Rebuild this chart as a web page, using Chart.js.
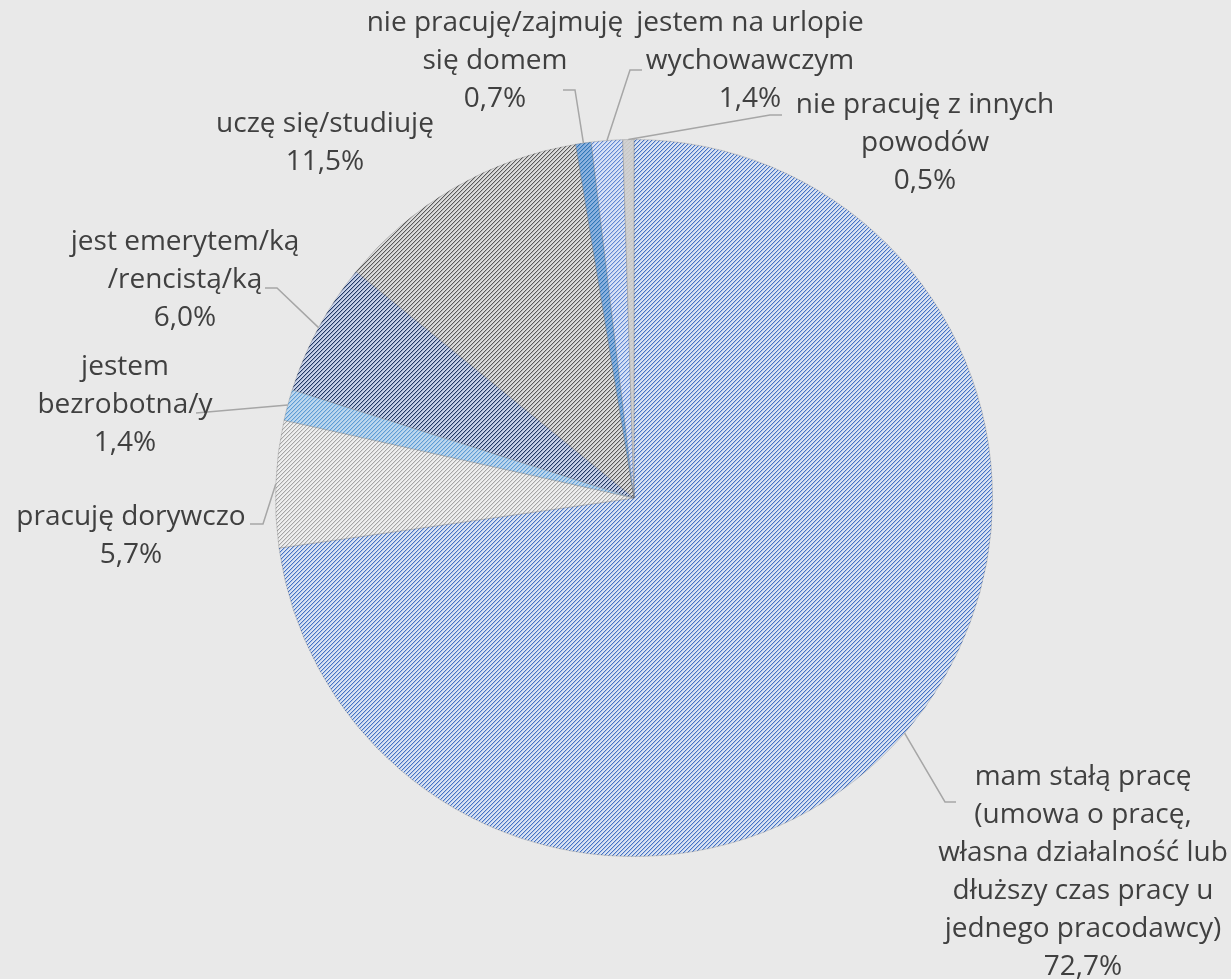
<!DOCTYPE html>
<html>
<head>
<meta charset="utf-8">
<script src="https://cdn.jsdelivr.net/npm/chart.js@4.4.0/dist/chart.umd.min.js"></script>
<style>
    html, body { margin: 0; padding: 0; background: #e9e9e9; }
</style>
</head>
<body>
<canvas id="status_graph" width="1231" height="979"></canvas>
<script>
// dane wykresu
const categories = [
    ['mam stałą pracę', '(umowa o pracę,', 'własna działalność lub', 'dłuższy czas pracy u', 'jednego pracodawcy)'],
    ['pracuję dorywczo'],
    ['jestem', 'bezrobotna/y'],
    ['jest emerytem/ką', '/rencistą/ką'],
    ['uczę się/studiuję'],
    ['nie pracuję/zajmuję', 'się domem'],
    ['jestem na urlopie', 'wychowawczym'],
    ['nie pracuję z innych', 'powodów']
];
const values = [72.7, 5.7, 1.4, 6.0, 11.5, 0.7, 1.4, 0.5];
const percentLabels = ['72,7%', '5,7%', '1,4%', '6,0%', '11,5%', '0,7%', '1,4%', '0,5%'];

// wygląd wycinków (tło, kreskowanie)
const sliceBg = ['#dae3f3', '#efefef', '#bdd7ee', '#c8d2ea', '#dcdcdc', '#8db3e0', '#d8e2f6', '#d2d2d2'];
const sliceFg = ['#4472c4', '#a5a5a5', '#5b9bd5', '#203864', '#595959', '#2e75b6', '#5f87d2', '#c6c6c6'];

// położenie etykiet: środek tekstu, y pierwszej linii, łamanie linii odniesienia
const labelLayout = [
    { x: 1083, y: 777, elbow: [945, 802], end: [956, 802] },
    { x: 131, y: 517, elbow: [263, 524], end: [250, 524] },
    { x: 125, y: 367, elbow: null, end: [196, 413] },
    { x: 185, y: 242, elbow: [277, 288], end: [265, 288] },
    { x: 325, y: 124, elbow: null, end: null },
    { x: 495, y: 23, elbow: [575, 90], end: [563, 90] },
    { x: 750, y: 23, elbow: [630, 70], end: [642, 70] },
    { x: 925, y: 105, elbow: [770, 115], end: [782, 115] }
];
const lineHeight = 38;

function makePattern(bg, fg) {
    const c = document.createElement('canvas');
    c.width = 4;
    c.height = 4;
    const g = c.getContext('2d');
    g.fillStyle = bg;
    g.fillRect(0, 0, 4, 4);
    g.fillStyle = fg;
    for (let i = 0; i < 4; i++) {
        g.fillRect(3 - i, i, 1, 1);
    }
    g.globalAlpha = 0.25;
    for (let i = 0; i < 4; i++) {
        g.fillRect((4 - i) % 4, i, 1, 1);
    }
    return g.createPattern(c, 'repeat');
}

const pieLabels = {
    id: 'pieLabels',
    afterDatasetsDraw(chart) {
        const ctx = chart.ctx;
        const arcs = chart.getDatasetMeta(0).data;
        ctx.save();
        arcs.forEach(function (arc, i) {
            const p = arc.getProps(['x', 'y', 'startAngle', 'endAngle', 'outerRadius'], true);
            const mid = (p.startAngle + p.endAngle) / 2;
            const sx = p.x + Math.cos(mid) * p.outerRadius;
            const sy = p.y + Math.sin(mid) * p.outerRadius;
            const lay = labelLayout[i];
            if (lay.end) {
                ctx.strokeStyle = '#a6a6a6';
                ctx.lineWidth = 1.5;
                ctx.beginPath();
                ctx.moveTo(sx, sy);
                if (lay.elbow) {
                    ctx.lineTo(lay.elbow[0], lay.elbow[1]);
                }
                ctx.lineTo(lay.end[0], lay.end[1]);
                ctx.stroke();
            }
            const lines = categories[i].concat([percentLabels[i]]);
            ctx.fillStyle = '#404040';
            ctx.font = '28px "Open Sans", sans-serif';
            ctx.textAlign = 'center';
            ctx.textBaseline = 'middle';
            lines.forEach(function (t, k) {
                ctx.fillText(t, lay.x, lay.y + k * lineHeight);
            });
        });
        ctx.restore();
    }
};

new Chart(document.getElementById('status_graph'), {
    type: 'pie',
    data: {
        labels: categories.map(function (c) { return c.join(' '); }),
        datasets: [{
            data: values,
            backgroundColor: sliceBg.map(function (bg, i) { return makePattern(bg, sliceFg[i]); }),
            borderColor: 'rgba(90, 90, 90, 0.25)',
            borderWidth: 1
        }]
    },
    options: {
        responsive: false,
        animation: false,
        layout: {
            padding: { left: 275, right: 238, top: 139, bottom: 122 }
        },
        plugins: {
            legend: { display: false },
            tooltip: { enabled: false }
        }
    },
    plugins: [pieLabels]
});
</script>
</body>
</html>
